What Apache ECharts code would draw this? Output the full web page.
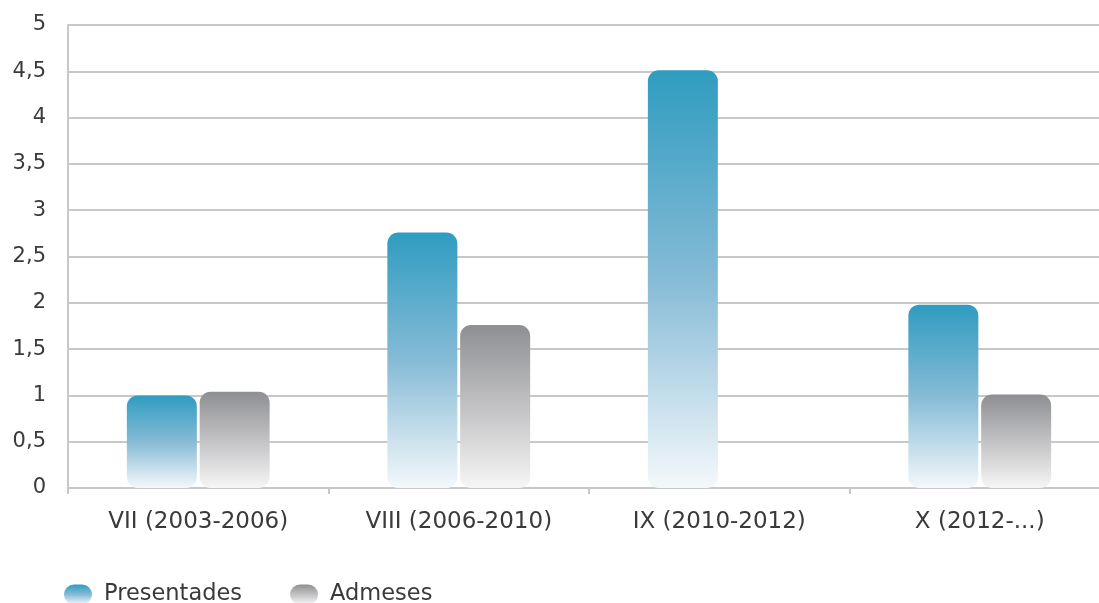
<!DOCTYPE html>
<html>
<head>
<meta charset="utf-8">
<script src="https://cdn.jsdelivr.net/npm/echarts@6/dist/echarts.min.js"></script>
<style>
html,body{margin:0;padding:0;background:#fff;overflow:hidden;width:1099px;height:603px;}
#c{width:1110px;height:603px;}
</style>
</head>
<body>
<div id="c"></div>
<script>
const categories = ['VII (2003-2006)', 'VIII (2006-2010)', 'IX (2010-2012)', 'X (2012-...)'];
const presentades = [1.0, 2.76, 4.51, 1.98];
const admeses = [1.04, 1.76, 0, 1.01];
const seriesNames = ['Presentades', 'Admeses'];

const chart = echarts.init(document.getElementById('c'), null, {renderer: 'canvas'});
const FONT = '"DejaVu Sans", sans-serif';

function grad(top, mid, bottom) {
  return new echarts.graphic.LinearGradient(0, 0, 0, 1, [
    {offset: 0, color: top},
    {offset: 0.5, color: mid},
    {offset: 1, color: bottom}
  ]);
}
const blue = grad('#2f9cc0', '#86bbd6', '#f4f8fb');
const gray = grad('#8e8f93', '#c2c2c4', '#f6f6f6');
const pill = 'path://M10,0H18A10,10,0,0,1,28,10A10,10,0,0,1,18,20H10A10,10,0,0,1,0,10A10,10,0,0,1,10,0Z';

chart.setOption({
  animation: false,
  backgroundColor: '#ffffff',
  grid: {left: 68, top: 25, right: 0, bottom: 115, containLabel: false},
  legend: {
    left: 59, top: 578,
    itemWidth: 28, itemHeight: 20, itemGap: 48,
    icon: pill,
    textStyle: {fontFamily: FONT, fontSize: 22.5, color: '#3a3a3a', padding: [0, 0, 0, 7]},
    data: seriesNames
  },
  xAxis: {
    type: 'category',
    data: categories,
    axisLine: {show: true, lineStyle: {color: '#c8c8c8', width: 2}},
    axisTick: {show: true, length: 6, lineStyle: {color: '#c8c8c8', width: 2}},
    axisLabel: {fontFamily: FONT, fontSize: 23, color: '#3a3a3a', margin: 23}
  },
  yAxis: {
    type: 'value',
    min: 0, max: 5, interval: 0.5,
    axisLine: {show: true, lineStyle: {color: '#c8c8c8', width: 2}},
    axisTick: {show: false},
    splitLine: {lineStyle: {color: '#c8c8c8', width: 2}},
    axisLabel: {
      fontFamily: FONT, fontSize: 21, color: '#3a3a3a', margin: 22,
      formatter: v => String(v).replace('.', ',')
    }
  },
  series: [
    {
      name: seriesNames[0], type: 'bar', data: presentades,
      barWidth: 70, barGap: '4%',
      itemStyle: {color: blue, borderRadius: 11}
    },
    {
      name: seriesNames[1], type: 'bar', data: admeses,
      barWidth: 70,
      itemStyle: {color: gray, borderRadius: 11}
    }
  ]
});
</script>
</body>
</html>
